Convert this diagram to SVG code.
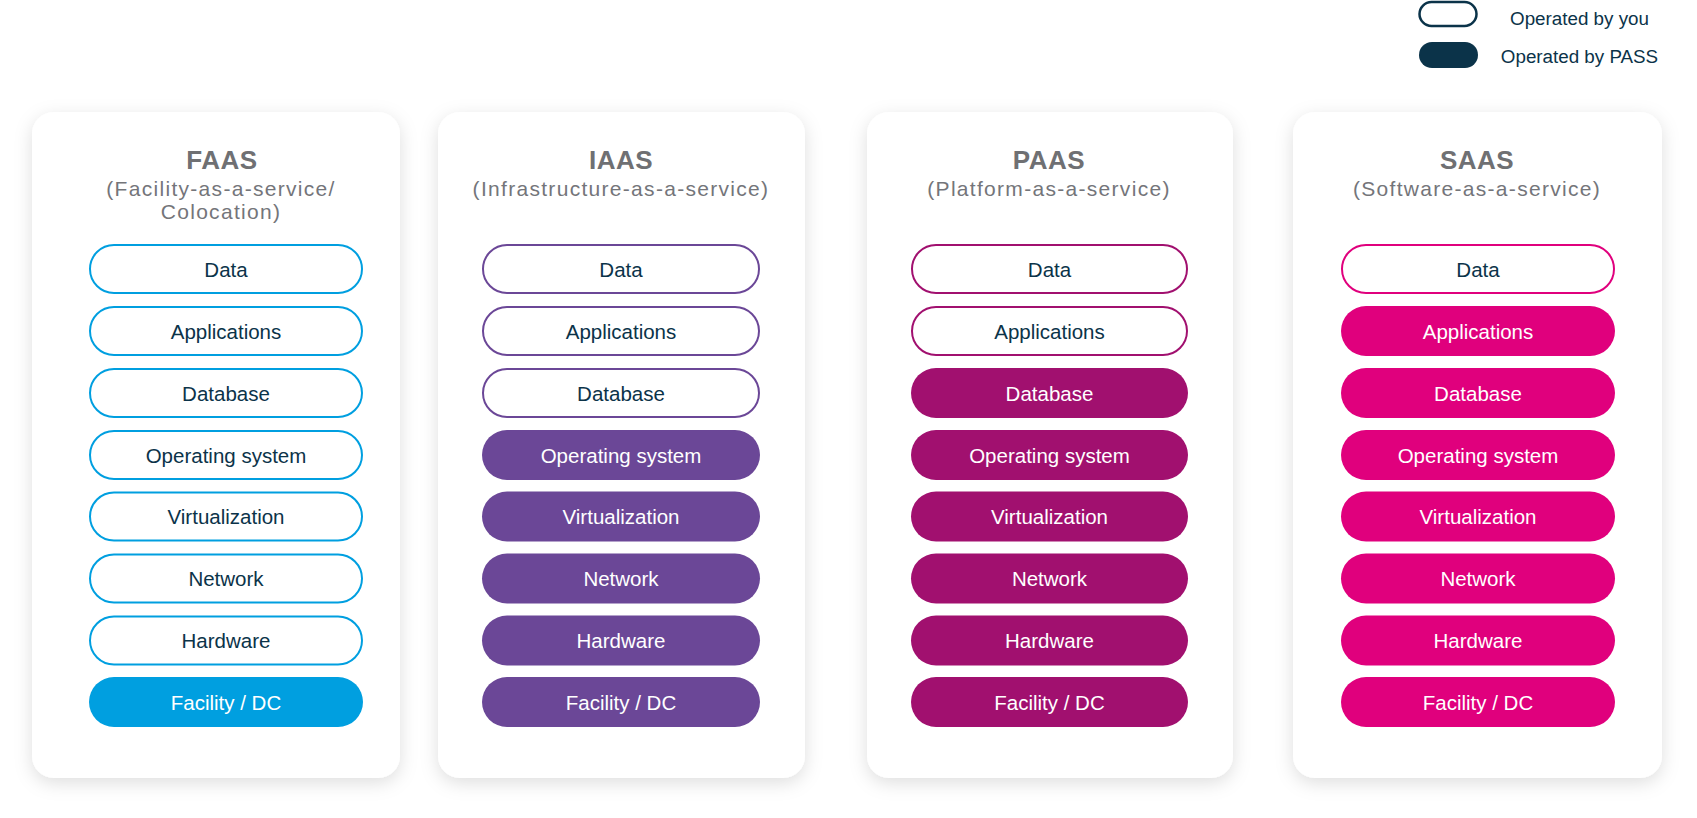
<svg xmlns="http://www.w3.org/2000/svg" width="1697" height="818" viewBox="0 0 1697 818">
<defs>
<filter id="sh" x="-20%" y="-20%" width="140%" height="140%">
<feDropShadow dx="0" dy="5" stdDeviation="9" flood-color="#000" flood-opacity="0.13"/>
</filter>
</defs>
<style>
.card{fill:#fff;filter:url(#sh)}
.title{font-family:"Liberation Sans",Arial,sans-serif;font-weight:bold;font-size:26px;fill:#6f7073;text-anchor:middle;letter-spacing:0.5px}
.sub{font-family:"Liberation Sans",Arial,sans-serif;font-size:21px;fill:#74757a;text-anchor:middle;letter-spacing:1.3px}
.lbl{font-family:"Liberation Sans",Arial,sans-serif;font-size:20.5px;text-anchor:middle}
.dk{fill:#0b3349}
.wt{fill:#fff}
.leg{font-family:"Liberation Sans",Arial,sans-serif;font-size:18.8px;fill:#0b3349;text-anchor:middle}
.f1{fill:none;stroke:#009fe0;stroke-width:2}
.s1{fill:#009fe0}
.f2{fill:none;stroke:#6b4797;stroke-width:2}
.s2{fill:#6b4797}
.f3{fill:none;stroke:#a1106f;stroke-width:2}
.s3{fill:#a1106f}
.f4{fill:none;stroke:#e0007d;stroke-width:2}
.s4{fill:#e0007d}
</style>

<g id="legend">
<rect x="1419.5" y="2" width="57" height="24" rx="12" fill="none" stroke="#0b3349" stroke-width="2.5"/>
<text class="leg" x="1579.5" y="24.5">Operated by you</text>
<rect x="1419" y="42" width="59" height="26" rx="13" fill="#0b3349"/>
<text class="leg" x="1579.5" y="62.5">Operated by PASS</text>
</g>

<g id="card-faas">
<rect class="card" x="32" y="112" width="368" height="666" rx="22"/>
<text class="title" x="222" y="169">FAAS</text>
<text class="sub" x="221" y="196">(Facility-as-a-service/</text>
<text class="sub" x="221" y="219">Colocation)</text>
<rect class="f1" x="90" y="245" width="272" height="48" rx="24"/><text class="lbl dk" x="226" y="276.5">Data</text>
<rect class="f1" x="90" y="307" width="272" height="48" rx="24"/><text class="lbl dk" x="226" y="338.5">Applications</text>
<rect class="f1" x="90" y="369" width="272" height="48" rx="24"/><text class="lbl dk" x="226" y="400.5">Database</text>
<rect class="f1" x="90" y="431" width="272" height="48" rx="24"/><text class="lbl dk" x="226" y="462.5">Operating system</text>
<rect class="f1" x="90" y="492.5" width="272" height="48" rx="24"/><text class="lbl dk" x="226" y="524">Virtualization</text>
<rect class="f1" x="90" y="554.5" width="272" height="48" rx="24"/><text class="lbl dk" x="226" y="586">Network</text>
<rect class="f1" x="90" y="616.5" width="272" height="48" rx="24"/><text class="lbl dk" x="226" y="648">Hardware</text>
<rect class="s1" x="89" y="677" width="274" height="50" rx="25"/><text class="lbl wt" x="226" y="709.5">Facility / DC</text>
</g>

<g id="card-iaas">
<rect class="card" x="438" y="112" width="367" height="666" rx="22"/>
<text class="title" x="621" y="169">IAAS</text>
<text class="sub" x="621" y="196">(Infrastructure-as-a-service)</text>
<rect class="f2" x="483" y="245" width="276" height="48" rx="24"/><text class="lbl dk" x="621" y="276.5">Data</text>
<rect class="f2" x="483" y="307" width="276" height="48" rx="24"/><text class="lbl dk" x="621" y="338.5">Applications</text>
<rect class="f2" x="483" y="369" width="276" height="48" rx="24"/><text class="lbl dk" x="621" y="400.5">Database</text>
<rect class="s2" x="482" y="430" width="278" height="50" rx="25"/><text class="lbl wt" x="621" y="462.5">Operating system</text>
<rect class="s2" x="482" y="491.5" width="278" height="50" rx="25"/><text class="lbl wt" x="621" y="524">Virtualization</text>
<rect class="s2" x="482" y="553.5" width="278" height="50" rx="25"/><text class="lbl wt" x="621" y="586">Network</text>
<rect class="s2" x="482" y="615.5" width="278" height="50" rx="25"/><text class="lbl wt" x="621" y="648">Hardware</text>
<rect class="s2" x="482" y="677" width="278" height="50" rx="25"/><text class="lbl wt" x="621" y="709.5">Facility / DC</text>
</g>

<g id="card-paas">
<rect class="card" x="867" y="112" width="366" height="666" rx="22"/>
<text class="title" x="1049" y="169">PAAS</text>
<text class="sub" x="1049" y="196">(Platform-as-a-service)</text>
<rect class="f3" x="912" y="245" width="275" height="48" rx="24"/><text class="lbl dk" x="1049.5" y="276.5">Data</text>
<rect class="f3" x="912" y="307" width="275" height="48" rx="24"/><text class="lbl dk" x="1049.5" y="338.5">Applications</text>
<rect class="s3" x="911" y="368" width="277" height="50" rx="25"/><text class="lbl wt" x="1049.5" y="400.5">Database</text>
<rect class="s3" x="911" y="430" width="277" height="50" rx="25"/><text class="lbl wt" x="1049.5" y="462.5">Operating system</text>
<rect class="s3" x="911" y="491.5" width="277" height="50" rx="25"/><text class="lbl wt" x="1049.5" y="524">Virtualization</text>
<rect class="s3" x="911" y="553.5" width="277" height="50" rx="25"/><text class="lbl wt" x="1049.5" y="586">Network</text>
<rect class="s3" x="911" y="615.5" width="277" height="50" rx="25"/><text class="lbl wt" x="1049.5" y="648">Hardware</text>
<rect class="s3" x="911" y="677" width="277" height="50" rx="25"/><text class="lbl wt" x="1049.5" y="709.5">Facility / DC</text>
</g>

<g id="card-saas">
<rect class="card" x="1293" y="112" width="369" height="666" rx="22"/>
<text class="title" x="1477" y="169">SAAS</text>
<text class="sub" x="1477" y="196">(Software-as-a-service)</text>
<rect class="f4" x="1342" y="245" width="272" height="48" rx="24"/><text class="lbl dk" x="1478" y="276.5">Data</text>
<rect class="s4" x="1341" y="306" width="274" height="50" rx="25"/><text class="lbl wt" x="1478" y="338.5">Applications</text>
<rect class="s4" x="1341" y="368" width="274" height="50" rx="25"/><text class="lbl wt" x="1478" y="400.5">Database</text>
<rect class="s4" x="1341" y="430" width="274" height="50" rx="25"/><text class="lbl wt" x="1478" y="462.5">Operating system</text>
<rect class="s4" x="1341" y="491.5" width="274" height="50" rx="25"/><text class="lbl wt" x="1478" y="524">Virtualization</text>
<rect class="s4" x="1341" y="553.5" width="274" height="50" rx="25"/><text class="lbl wt" x="1478" y="586">Network</text>
<rect class="s4" x="1341" y="615.5" width="274" height="50" rx="25"/><text class="lbl wt" x="1478" y="648">Hardware</text>
<rect class="s4" x="1341" y="677" width="274" height="50" rx="25"/><text class="lbl wt" x="1478" y="709.5">Facility / DC</text>
</g>

<g id="connectors"></g>
</svg>
